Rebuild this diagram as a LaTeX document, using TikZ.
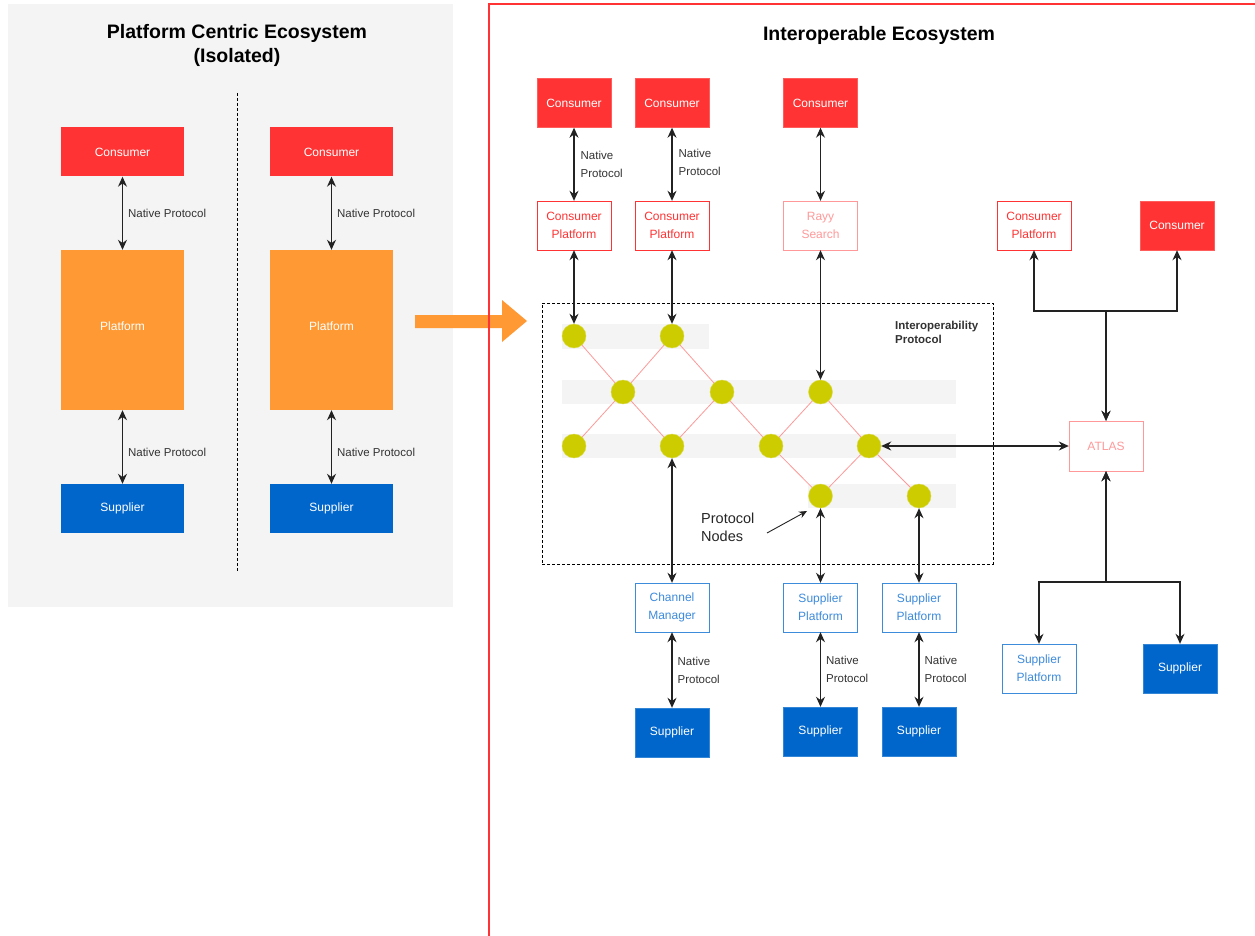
\documentclass[tikz,border=0pt]{standalone}
\usepackage{fontspec}
\setmainfont{Liberation Sans}
\usetikzlibrary{arrows.meta}
\definecolor{cred}{HTML}{FF3333}
\definecolor{corange}{HTML}{FF9933}
\definecolor{cblue}{HTML}{0066CC}
\definecolor{cblueline}{HTML}{3D8BDB}
\definecolor{cpink}{HTML}{FF9999}
\definecolor{colive}{HTML}{CCCC00}
\definecolor{cpanel}{HTML}{F4F4F4}
\definecolor{cband}{HTML}{F4F4F4}
\definecolor{cline}{HTML}{222222}
\begin{document}
\begin{tikzpicture}[x=1pt,y=-1pt,
  box/.style={rectangle, minimum width=74pt, minimum height=49pt, inner sep=1pt, align=center, font=\fontsize{12}{18}\selectfont},
  cfill/.style={box, fill=cred, draw=cred!80!white, text=white},
  sfill/.style={box, fill=cblue, draw=cblue!80!white, text=white},
  cout/.style={box, fill=white, draw=cred, text=cred},
  pout/.style={box, fill=white, draw=cpink, text=cpink},
  sout/.style={box, fill=white, draw=cblueline, text=cblueline},
  wide/.style={minimum width=123pt},
  pnode/.style={circle, fill=colive, draw=colive!70!white, minimum size=24pt, inner sep=0pt},
  link/.style={draw=cpink, line width=0.8pt},
  bi/.style={{Stealth[length=10pt,width=9pt]}-{Stealth[length=10pt,width=9pt]}, draw=cline, line width=1.2pt},
  one/.style={-{Stealth[length=8pt,width=7pt]}, draw=cline, line width=0.9pt},
  lbl/.style={font=\fontsize{11.5}{18}\selectfont, text=black!80, align=left, inner sep=0pt},
  band/.style={fill=cband, draw=none},
  ttl/.style={font=\bfseries\fontsize{19.5}{24}\selectfont, align=center},
]
\useasboundingbox (0,0) rectangle (1255,936);
\fill[white] (0,0) rectangle (1255,936);

% ---------- left panel ----------
\fill[cpanel] (8,4) rectangle (453,607);
\node[ttl] (t1) at (237,45) {Platform Centric Ecosystem\\(Isolated)};
\draw[dash pattern=on 3pt off 2pt, line width=1pt] (237,93) -- (237,571);

\node[cfill, wide, draw=none] (lc1) at (122.5,152) {Consumer};
\node[cfill, wide, draw=none] (lc2) at (331.5,152) {Consumer};
\node[box, wide, fill=corange, draw=none, text=white, minimum height=160pt] (lp1) at (122.5,330) {\raisebox{8pt}{Platform}};
\node[box, wide, fill=corange, draw=none, text=white, minimum height=160pt] (lp2) at (331.5,330) {\raisebox{8pt}{Platform}};
\node[sfill, wide, draw=none] (ls1) at (122.5,508.5) {Supplier};
\node[sfill, wide, draw=none] (ls2) at (331.5,508.5) {Supplier};

\draw[bi] (lc1) -- node[lbl, right=5pt] {Native Protocol} (lp1);
\draw[bi] (lc2) -- node[lbl, right=5pt] {Native Protocol} (lp2);
\draw[bi] (lp1) -- node[lbl, right=5pt, yshift=-5pt] {Native Protocol} (ls1);
\draw[bi] (lp2) -- node[lbl, right=5pt, yshift=-5pt] {Native Protocol} (ls2);

% orange arrow
\fill[corange] (415,315) -- (502,315) -- (502,300) -- (527,321) -- (502,342) -- (502,328) -- (415,328) -- cycle;

% ---------- right panel frame (red) ----------
\fill[cred] (488.4,4) rectangle (489.6,936);
\fill[cred] (488.4,3.4) rectangle (1255,4.6);
\node[ttl] (t2) at (879,35) {Interoperable Ecosystem};

% protocol frame
\node[draw, dash pattern=on 3pt off 2pt, line width=0.9pt, minimum width=451pt, minimum height=261pt, inner sep=0pt] (ipbox) at (767.5,433.5) {};
\node[anchor=west, align=left, inner sep=0pt, font=\bfseries\fontsize{11.5}{14}\selectfont, text=black!80] (iplbl) at (895,332) {Interoperability\\Protocol};

% bands
\fill[band] (562,324) rectangle (709,349);
\fill[band] (562,380) rectangle (956,404);
\fill[band] (562,434) rectangle (956,458);
\fill[band] (808,484) rectangle (956,508);

% protocol nodes
\node[pnode] (n11) at (574,336) {};
\node[pnode] (n12) at (672,336) {};
\node[pnode] (n21) at (623,392) {};
\node[pnode] (n22) at (722,392) {};
\node[pnode] (n23) at (820.5,392) {};
\node[pnode] (n31) at (574,446) {};
\node[pnode] (n32) at (672,446) {};
\node[pnode] (n33) at (771,446) {};
\node[pnode] (n34) at (869,446) {};
\node[pnode] (n41) at (820.5,496) {};
\node[pnode] (n42) at (919,496) {};

\draw[link] (n11) -- (n21);
\draw[link] (n12) -- (n21);
\draw[link] (n12) -- (n22);
\draw[link] (n21) -- (n31);
\draw[link] (n21) -- (n32);
\draw[link] (n22) -- (n32);
\draw[link] (n22) -- (n33);
\draw[link] (n23) -- (n33);
\draw[link] (n23) -- (n34);
\draw[link] (n33) -- (n41);
\draw[link] (n34) -- (n41);
\draw[link] (n34) -- (n42);

% top consumers
\node[cfill] (c1) at (574,103) {Consumer};
\node[cfill] (c2) at (672,103) {Consumer};
\node[cfill] (c3) at (820.5,103) {Consumer};
\node[cout] (cp1) at (574,225.5) {Consumer\\Platform};
\node[cout] (cp2) at (672,225.5) {Consumer\\Platform};
\node[pout] (rs) at (820.5,225.5) {Rayy\\Search};
\node[cout] (cp3) at (1034,225.5) {Consumer\\Platform};
\node[cfill] (c4) at (1177,225.5) {Consumer};
\node[pout, minimum height=50pt] (atlas) at (1106,446) {ATLAS};

% bottom
\node[sout] (cm) at (672,607.5) {Channel\\Manager};
\node[sout] (sp1) at (820.5,607.5) {Supplier\\Platform};
\node[sout] (sp2) at (919,607.5) {Supplier\\Platform};
\node[sfill] (s1) at (672,732.5) {Supplier};
\node[sfill] (s2) at (820.5,731.5) {Supplier};
\node[sfill] (s3) at (919,731.5) {Supplier};
\node[sout] (sp3) at (1039,668.5) {Supplier\\Platform};
\node[sfill] (s4) at (1180,668.5) {Supplier};

% connectors
\draw[bi] (c1) -- node[lbl, right=6pt] {Native\\Protocol} (cp1);
\draw[bi] (c2) -- node[lbl, right=6pt, yshift=2pt] {Native\\Protocol} (cp2);
\draw[bi] (c3) -- (rs);
\draw[bi] (cp1) -- (n11);
\draw[bi] (cp2) -- (n12);
\draw[bi] (rs) -- (n23);
\draw[bi] (n32) -- (cm);
\draw[bi] (n41) -- (sp1);
\draw[bi] (n42) -- (sp2);
\draw[bi] (cm) -- node[lbl, right=5pt] {Native\\Protocol} (s1);
\draw[bi] (sp1) -- node[lbl, right=5pt] {Native\\Protocol} (s2);
\draw[bi] (sp2) -- node[lbl, right=5pt] {Native\\Protocol} (s3);
\draw[bi] (n34) -- (atlas);

\coordinate (jt) at (1106,311);
\coordinate (jb) at (1106,582);
\draw[bi] (atlas) -- (jt) -| (cp3);
\draw[bi] (atlas) -- (jt) -| (c4);
\draw[bi] (atlas) -- (jb) -| (sp3);
\draw[bi] (atlas) -- (jb) -| (s4);

% protocol nodes label
\node[anchor=west, align=left, inner sep=0pt, font=\fontsize{14.5}{18}\selectfont, text=black!85] (pnl) at (701,527) {Protocol\\Nodes};
\coordinate (pnA) at (767,533);
\coordinate (pnB) at (807,511);
\draw[one] (pnA) -- (pnB);
\end{tikzpicture}
\end{document}
